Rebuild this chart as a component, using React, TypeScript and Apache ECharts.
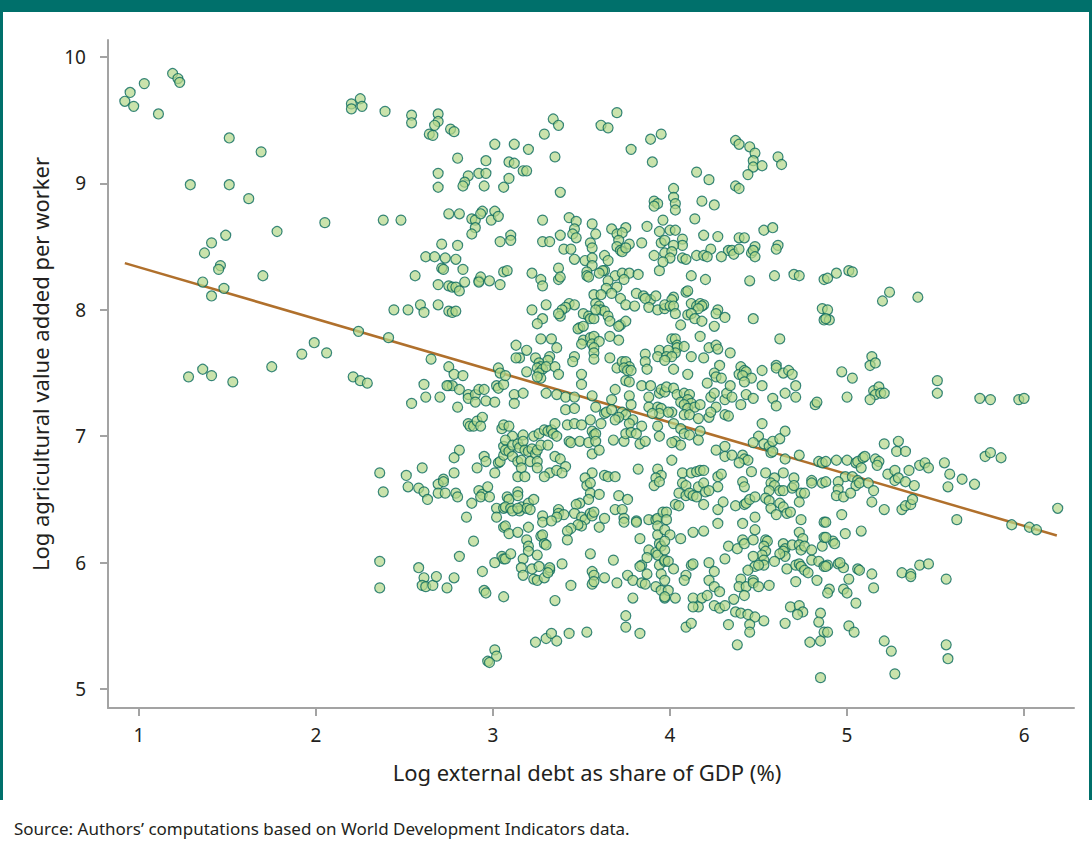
import React, { useEffect, useRef } from "react";
import * as echarts from "echarts";

const X_TICKS = [1, 2, 3, 4, 5, 6];
const Y_TICKS = [5, 6, 7, 8, 9, 10];
const TREND = [[0.92, 8.37], [6.185, 6.215]];
const X_TITLE = "Log external debt as share of GDP (%)";
const Y_TITLE = "Log agricultural value added per worker";
const SOURCE = "Source: Authors\u2019 computations based on World Development Indicators data.";

const zoneA = [[0.92,9.65],[0.95,9.72],[0.97,9.61],[1.03,9.79],[1.11,9.55],[1.19,9.87],[1.22,9.83],[1.23,9.80],[1.51,9.36],[1.69,9.25],[1.29,8.99],[1.51,8.99],[1.62,8.88],[2.05,8.69],[1.49,8.59],[1.78,8.62],[1.41,8.53],[1.37,8.45],[1.46,8.35],[1.45,8.32],[1.36,8.22],[1.48,8.17],[1.41,8.11],[1.70,8.27],[1.99,7.74],[1.92,7.65],[2.06,7.66],[1.75,7.55],[1.28,7.47],[1.36,7.53],[1.41,7.48],[1.53,7.43]];

const zoneB = [[2.20,9.63],[2.20,9.59],[2.25,9.67],[2.26,9.61],[2.39,9.57],[2.54,9.54],[2.54,9.48],[2.69,9.55],[2.69,9.49],[2.67,9.46],[2.64,9.39],[2.66,9.38],[2.76,9.43],[2.78,9.41],[3.01,9.31],[2.80,9.20],[2.96,9.18],[2.69,9.08],[2.69,8.97],[2.86,9.06],[2.84,9.01],[2.83,8.98],[2.92,9.08],[2.96,9.08],[2.95,8.98],[3.06,8.97],[2.38,8.71],[2.48,8.71],[2.75,8.76],[2.81,8.76],[2.88,8.72],[2.90,8.71],[2.94,8.78],[2.93,8.76],[3.01,8.78],[2.99,8.71],[3.03,8.74],[2.90,8.65],[2.88,8.60],[2.71,8.52],[2.80,8.51],[3.04,8.54],[2.62,8.42],[2.67,8.42],[2.73,8.41],[2.79,8.40]];

const zoneC = [[3.70,9.56],[3.34,9.51],[3.37,9.46],[3.61,9.46],[3.65,9.44],[3.29,9.39],[3.89,9.35],[3.95,9.39],[3.12,9.31],[3.20,9.27],[3.78,9.27],[3.35,9.21],[3.09,9.17],[3.12,9.16],[3.90,9.17],[3.17,9.10],[3.19,9.10],[3.09,9.04],[3.38,8.93],[3.91,8.86],[3.93,8.84],[3.91,8.82],[3.28,8.71],[3.43,8.73],[3.47,8.70],[3.56,8.68],[3.58,8.60],[3.46,8.64],[3.45,8.60],[3.47,8.57],[3.38,8.59],[3.10,8.59],[3.10,8.55],[3.28,8.54],[3.32,8.54],[3.40,8.48],[3.44,8.48],[3.46,8.40],[3.55,8.53],[3.56,8.49],[3.67,8.64],[3.75,8.65],[3.70,8.60],[3.73,8.61],[3.71,8.55],[3.70,8.50],[3.72,8.47],[3.73,8.46],[3.77,8.52],[3.75,8.49],[3.84,8.53],[3.87,8.66],[3.94,8.62],[3.96,8.71],[3.95,8.53],[3.97,8.55],[3.91,8.43],[3.63,8.43],[3.52,8.39],[3.56,8.41],[3.97,8.45]];

const zoneD = [[4.37,9.34],[4.39,9.31],[4.45,9.29],[4.48,9.24],[4.47,9.18],[4.47,9.13],[4.52,9.14],[4.61,9.21],[4.63,9.15],[4.44,9.07],[4.15,9.09],[4.22,9.03],[4.37,8.98],[4.39,8.96],[4.02,8.96],[4.02,8.89],[4.03,8.84],[4.03,8.79],[4.18,8.86],[4.25,8.83],[4.14,8.72],[4.00,8.63],[4.03,8.63],[4.19,8.59],[4.27,8.58],[4.53,8.63],[4.58,8.65],[4.39,8.57],[4.42,8.57],[4.07,8.56],[4.07,8.51],[4.02,8.51],[4.01,8.46],[4.23,8.48],[4.33,8.47],[4.35,8.47],[4.36,8.44],[4.39,8.48],[4.46,8.45],[4.48,8.50],[4.47,8.47],[4.61,8.51],[4.60,8.48],[4.15,8.43],[4.19,8.43],[4.21,8.42],[4.07,8.41],[4.09,8.40],[4.00,8.41],[4.29,8.42],[4.48,8.42]];

const zoneE = [[2.71,8.33],[2.72,8.32],[2.83,8.32],[2.56,8.27],[2.69,8.20],[2.75,8.19],[2.77,8.18],[2.79,8.18],[2.81,8.15],[2.84,8.22],[2.92,8.23],[2.93,8.26],[2.92,8.22],[2.98,8.23],[3.04,8.20],[3.06,8.30],[2.44,8.00],[2.52,8.00],[2.59,8.04],[2.61,7.98],[2.69,8.04],[2.75,7.99],[2.77,7.98],[2.79,7.99],[2.24,7.83],[2.41,7.78],[2.65,7.61],[2.75,7.55],[2.78,7.49],[2.83,7.48],[2.21,7.47],[2.25,7.44],[2.29,7.42],[2.61,7.41],[2.75,7.40],[2.77,7.40],[2.74,7.40],[2.81,7.37],[3.03,7.54],[3.04,7.50],[3.02,7.40],[3.03,7.38],[3.06,7.41],[2.54,7.26],[2.62,7.31],[2.70,7.31],[2.80,7.23],[2.86,7.33],[2.86,7.30],[2.90,7.33],[2.90,7.27],[2.92,7.37],[2.95,7.37],[2.96,7.28],[3.01,7.27],[2.86,7.10],[2.87,7.08],[2.89,7.08],[2.91,7.12],[2.94,7.15],[2.93,7.08],[3.05,7.06],[3.06,7.09],[2.81,6.89],[2.78,6.83],[2.95,6.84],[2.96,6.80],[2.91,6.75],[3.01,6.71],[3.03,6.79],[3.04,6.80],[3.06,6.85],[3.06,6.92],[2.36,6.71],[2.51,6.69],[2.60,6.75],[2.72,6.66],[2.78,6.71]];

const zoneF = [[3.08,8.31],[3.22,8.29],[3.37,8.33],[3.37,8.24],[3.38,8.26],[3.27,8.24],[3.28,8.19],[3.56,8.35],[3.65,8.39],[3.63,8.31],[3.62,8.31],[3.53,8.30],[3.53,8.27],[3.54,8.26],[3.60,8.29],[3.69,8.27],[3.73,8.29],[3.77,8.29],[3.82,8.28],[3.74,8.24],[3.65,8.23],[3.94,8.31],[3.96,8.38],
[3.64,8.17],[3.70,8.18],[3.67,8.13],[3.72,8.09],[3.75,8.04],[3.80,8.03],[3.81,8.13],[3.85,8.11],[3.89,8.08],[3.92,8.11],[3.86,8.09],[3.88,8.02],[3.93,8.00],[3.97,8.01],[3.57,8.12],[3.61,8.12],[3.58,8.05],[3.60,8.03],[3.61,8.00],[3.63,7.99],[3.65,7.95],[3.66,7.91],[3.51,7.97],[3.54,7.95],[3.55,7.93],[3.57,7.93],[3.58,8.00],[3.43,8.05],[3.46,8.04],[3.41,8.02],[3.39,8.00],[3.38,7.95],[3.37,7.97],[3.30,8.04],[3.22,8.00],[3.28,7.93],[3.25,7.89],
[3.49,7.86],[3.48,7.85],[3.51,7.87],[3.72,7.88],[3.75,7.91],[3.71,7.87],[3.66,7.79],[3.71,7.76],[3.51,7.76],[3.50,7.73],[3.55,7.78],[3.57,7.79],[3.56,7.73],[3.60,7.75],[3.57,7.70],[3.57,7.66],[3.57,7.61],[3.27,7.77],[3.33,7.77],[3.13,7.72],[3.19,7.68],[3.15,7.62],[3.13,7.62],[3.24,7.62],[3.36,7.70],[3.32,7.63],[3.31,7.60],[3.46,7.63],[3.45,7.59],[3.66,7.62],[3.86,7.65],[3.94,7.68],[3.93,7.63],
[3.26,7.58],[3.27,7.55],[3.25,7.54],[3.28,7.53],[3.26,7.50],[3.27,7.46],[3.25,7.47],[3.30,7.55],[3.35,7.55],[3.37,7.49],[3.19,7.51],[3.50,7.49],[3.50,7.41],[3.70,7.54],[3.73,7.59],[3.75,7.59],[3.77,7.55],[3.74,7.54],[3.76,7.52],[3.78,7.52],[3.86,7.59],[3.87,7.53],[3.75,7.44],[3.77,7.43],[3.07,7.48],
[3.30,7.34],[3.36,7.33],[3.41,7.31],[3.46,7.31],[3.56,7.32],[3.12,7.33],[3.12,7.26],[3.17,7.34],[3.41,7.21],[3.46,7.22],[3.58,7.23],[3.67,7.29],[3.69,7.37],[3.77,7.32],[3.78,7.25],[3.84,7.40],[3.89,7.40],[3.88,7.31],[3.94,7.34],[3.95,7.37],[3.97,7.35],[3.88,7.23],[3.93,7.23],[3.95,7.22],[3.94,7.18],[3.73,7.19],[3.75,7.17],[3.63,7.18],[3.64,7.19],[3.67,7.21],
[3.09,7.08],[3.11,7.00],[3.17,7.01],[3.23,7.00],[3.26,7.02],[3.29,7.05],[3.31,7.04],[3.33,7.05],[3.35,7.10],[3.34,7.02],[3.36,7.00],[3.42,7.09],[3.46,7.10],[3.50,7.09],[3.55,7.13],[3.61,7.10],[3.56,7.04],[3.57,7.01],[3.71,7.15],[3.69,7.13],[3.79,7.13],[3.77,7.10],[3.84,7.08],[3.90,7.18],[3.93,7.08],
[3.07,6.97],[3.07,6.89],[3.09,6.88],[3.11,6.93],[3.14,6.94],[3.15,6.91],[3.17,6.96],[3.18,6.89],[3.20,6.88],[3.22,6.90],[3.24,6.86],[3.25,6.89],[3.27,6.93],[3.31,6.93],[3.11,6.84],[3.14,6.80],[3.16,6.81],[3.21,6.80],[3.25,6.80],[3.35,6.84],[3.38,6.82],[3.41,6.76],[3.43,6.96],[3.44,6.95],[3.49,6.96],[3.54,6.95],[3.58,7.02],[3.58,6.96],[3.56,6.86],[3.60,6.89],[3.68,6.97],[3.74,6.96],[3.75,7.02],[3.78,7.03],[3.81,7.02],[3.83,6.94],[3.86,6.96],[3.94,7.00],
[3.16,6.75],[3.25,6.75],[3.32,6.71],[3.36,6.73],[3.39,6.71],[3.56,6.71],[3.63,6.69],[3.65,6.68],[3.69,6.68],[3.82,6.74],[3.93,6.74],[3.95,6.69],[3.92,6.67],[3.14,6.68],[3.18,6.68],[3.29,6.68],[3.52,6.67]];

const zoneG = [[4.12,8.27],[4.20,8.24],[4.45,8.23],[4.59,8.27],[4.70,8.28],[4.73,8.27],[4.87,8.24],[4.09,8.14],[4.10,8.15],[4.02,8.10],[4.01,8.08],[3.97,8.04],[4.00,8.03],[4.02,8.03],[4.12,8.05],[4.15,8.03],[4.17,8.05],[4.19,8.04],[4.18,8.03],[4.16,8.01],[4.10,7.96],[4.12,7.97],[4.14,7.93],[4.18,7.91],[4.03,7.97],[4.06,7.88],[4.27,8.00],[4.26,7.97],[4.31,7.94],[4.25,7.87],[4.47,7.93],[4.86,8.01],[4.87,7.92],[4.62,7.77],[4.17,7.79],
[4.01,7.77],[4.03,7.77],[4.04,7.72],[4.04,7.70],[4.08,7.71],[4.03,7.66],[3.99,7.68],[3.98,7.63],[4.01,7.63],[3.97,7.60],[4.12,7.63],[4.19,7.62],[4.22,7.70],[4.26,7.72],[4.27,7.69],[4.34,7.66],[4.02,7.53],[4.10,7.49],[4.28,7.56],[4.25,7.50],[4.26,7.47],[4.29,7.46],[4.21,7.42],[4.40,7.55],[4.39,7.49],[4.42,7.52],[4.43,7.51],[4.41,7.48],[4.46,7.46],[4.42,7.43],[4.52,7.52],[4.60,7.56],[4.60,7.54],[4.64,7.50],[4.67,7.52],[4.69,7.49],[4.71,7.40],[4.52,7.40],[4.65,7.34],[4.58,7.30],[4.60,7.24],[4.71,7.31],[4.82,7.25],[4.83,7.27],
[3.98,7.39],[4.02,7.38],[4.04,7.33],[4.06,7.27],[4.08,7.34],[4.11,7.33],[4.10,7.29],[4.12,7.26],[4.08,7.25],[4.10,7.22],[4.14,7.23],[4.17,7.25],[4.01,7.19],[3.99,7.19],[4.23,7.31],[4.25,7.34],[4.26,7.23],[4.31,7.29],[4.32,7.34],[4.34,7.40],[4.35,7.31],[4.40,7.25],[4.43,7.33],[4.47,7.30],[4.08,7.17],[4.11,7.17],[4.16,7.14],[4.22,7.15],[4.23,7.19],[4.31,7.17],[4.33,7.16],
[4.02,7.10],[4.06,7.06],[4.08,7.02],[4.11,7.01],[4.17,7.04],[4.16,6.97],[4.03,6.96],[4.06,6.93],[4.01,6.95],[4.52,7.10],[4.50,7.00],[4.47,6.95],[4.53,6.94],[4.56,6.92],[4.58,6.96],[4.62,6.98],[4.65,7.04],[4.57,6.87],[4.58,6.88],[4.26,6.89],[4.31,6.92],[4.31,6.84],[4.35,6.85],[4.41,6.85],[4.42,6.82],[4.44,6.81],[4.39,6.79],[4.65,6.82],[4.73,6.85],[4.84,6.80],[4.86,6.79],[4.01,6.81],
[4.07,6.71],[4.12,6.71],[4.15,6.72],[4.17,6.73],[4.19,6.73],[4.27,6.68],[4.29,6.70],[4.46,6.72],[4.54,6.71],[4.59,6.67],[4.64,6.71],[4.70,6.67],[4.80,6.65]];

const zoneH = [[2.38,6.56],[2.52,6.60],[2.58,6.59],[2.61,6.56],[2.63,6.50],[2.69,6.62],[2.72,6.64],[2.69,6.55],[2.73,6.55],[2.79,6.55],[2.80,6.52],[2.88,6.47],[2.85,6.36],[2.92,6.57],[2.94,6.54],[2.93,6.52],[2.97,6.60],[2.98,6.52],[3.02,6.43],[3.02,6.36],[3.06,6.43],[3.06,6.28],[2.89,6.17],[2.81,6.05],[2.36,6.01],[2.36,5.80],[2.58,5.96],[2.61,5.88],[2.60,5.82],[2.62,5.81],[2.66,5.82],[2.68,5.89],[2.74,5.80],[2.78,5.88],[2.94,5.93],[3.01,6.00],[3.05,6.05],[3.06,6.03],[2.95,5.78],[2.96,5.76],[3.06,5.73],[3.01,5.31],[3.02,5.26],[2.97,5.22],[2.98,5.21]];

const zoneI = [[3.08,6.52],[3.09,6.50],[3.07,6.44],[3.10,6.43],[3.14,6.56],[3.14,6.53],[3.16,6.44],[3.15,6.41],[3.20,6.47],[3.19,6.43],[3.21,6.42],[3.23,6.50],[3.11,6.41],[3.14,6.43],
[3.53,6.61],[3.55,6.63],[3.55,6.55],[3.54,6.50],[3.60,6.54],[3.49,6.47],[3.47,6.46],
[3.71,6.53],[3.76,6.50],[3.69,6.42],[3.73,6.42],[3.74,6.35],[3.74,6.32],[3.81,6.33],[3.81,6.32],[3.91,6.61],[3.94,6.64],
[3.37,6.42],[3.37,6.39],[3.40,6.38],[3.36,6.36],[3.28,6.37],[3.28,6.32],[3.33,6.33],
[3.46,6.39],[3.50,6.36],[3.52,6.34],[3.55,6.39],[3.56,6.37],[3.57,6.40],[3.50,6.29],[3.48,6.30],[3.44,6.27],[3.42,6.25],[3.42,6.18],[3.63,6.35],[3.60,6.28],
[3.88,6.34],[3.92,6.34],[3.93,6.35],[3.96,6.40],[3.93,6.29],[3.93,6.22],[3.97,6.26],
[3.07,6.29],[3.09,6.23],[3.14,6.24],[3.20,6.28],[3.07,6.03],[3.27,6.21],[3.28,6.22],[3.29,6.15],[3.30,6.14],
[3.19,6.18],[3.20,6.13],[3.20,6.09],[3.17,6.03],[3.25,6.06],[3.10,6.07],[3.16,5.96],[3.22,5.95],[3.26,5.97],[3.17,5.90],[3.23,5.87],[3.25,5.86],[3.29,5.88],[3.32,5.94],[3.32,5.96],[3.31,5.92],[3.39,5.99],
[3.83,6.19],[3.55,6.07],[3.68,6.02],[3.56,5.93],[3.57,5.90],[3.56,5.83],[3.57,5.85],[3.63,5.88],[3.70,5.84],
[3.76,5.90],[3.79,5.86],[3.84,5.84],[3.86,5.83],[3.87,5.91],[3.84,5.98],[3.83,5.97],
[3.88,6.10],[3.87,6.04],[3.92,6.08],[3.93,6.06],[3.94,6.15],[3.95,6.13],[3.97,6.10],[3.94,5.98],[3.95,5.91],[3.97,6.01],
[3.92,5.81],[3.95,5.78],[3.97,5.72],[3.79,5.72],[3.44,5.82],[3.35,5.70],[3.75,5.58],[3.75,5.49],[3.83,5.44],
[3.24,5.37],[3.30,5.40],[3.33,5.44],[3.36,5.38],[3.43,5.44],[3.53,5.45]];

const zoneJ = [[4.07,6.63],[4.09,6.61],[4.16,6.60],[4.19,6.63],[4.27,6.60],[4.41,6.64],[4.42,6.60],[4.05,6.55],[4.09,6.53],[4.11,6.55],[4.13,6.53],[4.15,6.52],[4.20,6.56],[4.22,6.57],[4.57,6.63],[4.59,6.61],[4.62,6.57],[4.64,6.57],[4.69,6.59],[4.70,6.61],[4.74,6.55],[4.76,6.55],[4.80,6.63],[4.86,6.63],[4.56,6.57],
[4.03,6.46],[4.05,6.45],[4.19,6.46],[4.27,6.42],[4.30,6.48],[4.37,6.45],[4.42,6.46],[4.43,6.47],[4.45,6.50],[4.48,6.52],[4.54,6.51],[4.56,6.49],[4.57,6.43],[4.60,6.38],[4.62,6.47],[4.64,6.44],[4.66,6.39],[4.68,6.40],[4.73,6.48],[4.27,6.31],[4.41,6.31],[4.48,6.36],[4.48,6.26],[4.74,6.34],[4.87,6.32],[3.98,6.40],[3.98,6.34],
[4.00,6.22],[3.97,6.17],[4.06,6.19],[4.13,6.24],[4.19,6.25],
[4.33,6.13],[4.38,6.11],[4.41,6.18],[4.42,6.15],[4.47,6.18],[4.54,6.18],[4.55,6.17],[4.53,6.13],[4.54,6.09],[4.52,6.06],[4.53,6.02],[4.53,5.98],[4.47,6.05],[4.48,5.97],[4.44,5.94],[4.50,5.98],
[4.64,6.15],[4.65,6.11],[4.64,6.09],[4.65,6.05],[4.62,6.07],[4.69,6.14],[4.59,6.01],[4.73,6.24],[4.75,6.19],[4.73,6.14],[4.74,6.10],[4.76,6.13],[4.80,6.10],[4.86,6.13],[4.87,6.20],
[4.66,5.95],[4.71,5.98],[4.73,5.99],[4.74,5.97],[4.76,5.94],[4.78,5.92],[4.80,6.02],[4.84,6.01],[4.87,5.97],[4.83,5.86],[4.71,5.85],
[3.97,6.02],[3.99,6.01],[4.02,5.95],[3.97,5.86],[3.99,5.78],[3.97,5.73],[4.03,5.72],[4.09,5.90],[4.08,5.86],[4.12,5.98],[4.13,5.99],[4.22,6.00],[4.25,5.93],[4.22,5.86],[4.25,5.81],[4.28,5.77],[4.31,6.03],
[4.40,5.87],[4.39,5.81],[4.43,5.81],[4.47,5.86],[4.47,5.84],[4.50,5.81],[4.56,5.82],[4.42,5.74],
[4.13,5.72],[4.18,5.72],[4.16,5.65],[4.13,5.65],[4.21,5.74],[4.25,5.66],[4.28,5.64],[4.31,5.66],[4.36,5.71],[4.37,5.61],[4.40,5.60],[4.44,5.59],[4.48,5.57],[4.53,5.54],[4.45,5.51],[4.45,5.45],[4.33,5.51],[4.38,5.35],[4.09,5.49],[4.12,5.52],[4.68,5.65],[4.73,5.66],[4.75,5.61],[4.72,5.59],[4.65,5.52],[4.85,5.60],[4.84,5.53],[4.87,5.45],[4.79,5.37],[4.85,5.38],[4.85,5.09]];

const zoneK = [[4.89,8.25],[4.94,8.29],[5.01,8.31],[5.03,8.30],[5.20,8.07],[5.24,8.14],[5.40,8.10],[4.89,8.00],[4.90,7.92],[4.88,7.93],[5.14,7.63],[5.13,7.56],[5.16,7.58],[4.97,7.51],[5.03,7.46],[5.51,7.44]];

const zoneL = [[5.51,7.34],[5.00,7.31],[5.15,7.36],[5.18,7.39],[5.16,7.33],[5.19,7.34],[5.21,7.34],[5.13,7.29],[5.75,7.30],[5.81,7.29],[5.97,7.29],[6.00,7.30],
[5.21,6.94],[5.29,6.96],[5.28,6.88],[5.33,6.88],
[4.88,6.80],[4.94,6.81],[5.00,6.81],[5.05,6.79],[5.06,6.80],[5.09,6.83],[5.10,6.84],[5.16,6.82],[5.18,6.80],[5.17,6.77],[5.08,6.75],
[4.99,6.68],[5.03,6.68],[5.06,6.65],[5.05,6.61],[5.07,6.63],[5.12,6.63],[4.95,6.64],[4.95,6.58],[4.94,6.53],[4.98,6.52],[5.02,6.55],[4.88,6.64],
[5.15,6.57],[5.14,6.48],[5.21,6.42],
[5.23,6.70],[5.27,6.73],[5.27,6.65],[5.29,6.67],[5.33,6.64],[5.35,6.73],[5.38,6.61],[5.31,6.42],[5.33,6.45],[5.36,6.46],[5.37,6.50],
[5.41,6.77],[5.44,6.79],[5.46,6.75],[5.55,6.79],[5.58,6.70],[5.57,6.60],[5.65,6.66],[5.72,6.62],
[5.78,6.84],[5.81,6.87],[5.87,6.83],[5.62,6.34],[5.93,6.30],[6.03,6.28],[6.07,6.26],[6.19,6.43],
[4.88,6.32],[4.97,6.38],[4.99,6.23],[5.08,6.25],[4.92,6.17],[4.93,6.15],[4.88,6.20],
[4.89,5.98],[4.88,5.97],[4.95,5.99],[4.98,5.96],[4.96,6.00],[5.06,5.95],[5.07,5.94],[5.14,5.91],[5.31,5.92],[5.36,5.91],[5.36,5.89],[5.41,5.98],[5.46,5.99],[5.56,5.87],
[5.01,5.87],[4.98,5.79],[5.00,5.76],[4.90,5.79],[4.89,5.76],[5.15,5.80],[5.05,5.68],
[4.89,5.45],[5.01,5.50],[5.04,5.45],[5.21,5.38],[5.25,5.30],[5.27,5.12],[5.56,5.35],[5.57,5.24]];

const POINTS = [
  ...zoneA, ...zoneB, ...zoneC, ...zoneD, ...zoneE, ...zoneF,
  ...zoneG, ...zoneH, ...zoneI, ...zoneJ, ...zoneK, ...zoneL,
];

const TEAL = "#00706b";
const AXIS_GRAY = "#a3a3a3";
const FONT = "'Noto Sans', 'Open Sans', sans-serif";

export default function App() {
  const ref = useRef<HTMLDivElement>(null);

  useEffect(() => {
    if (!ref.current) return;
    const chart = echarts.init(ref.current, null, { renderer: "svg" });
    chart.setOption({
      animation: false,
      backgroundColor: "#ffffff",
      grid: { left: 108, top: 40, right: 18, bottom: 140, containLabel: false },
      xAxis: {
        type: "value",
        min: 0.825,
        max: 6.282,
        axisLine: { show: true, onZero: false, lineStyle: { color: AXIS_GRAY, width: 2 } },
        axisTick: { show: true, length: 8, customValues: X_TICKS, lineStyle: { color: AXIS_GRAY, width: 2 } },
        axisLabel: {
          customValues: X_TICKS,
          margin: 17,
          color: "#231f20",
          fontSize: 19,
          fontFamily: FONT,
        },
        splitLine: { show: false },
      },
      yAxis: {
        type: "value",
        min: 4.85,
        max: 10.135,
        axisLine: { show: true, onZero: false, lineStyle: { color: AXIS_GRAY, width: 2 } },
        axisTick: { show: true, length: 8, customValues: Y_TICKS, lineStyle: { color: AXIS_GRAY, width: 2 } },
        axisLabel: {
          customValues: Y_TICKS,
          margin: 22,
          color: "#231f20",
          fontSize: 19,
          fontFamily: FONT,
        },
        splitLine: { show: false },
      },
      series: [
        {
          type: "line",
          data: TREND,
          symbol: "none",
          lineStyle: { color: "#b0702c", width: 2.5 },
          z: 2,
          silent: true,
        },
        {
          type: "scatter",
          data: POINTS,
          symbol: "circle",
          symbolSize: 10,
          itemStyle: {
            color: "rgba(180,216,138,0.88)",
            borderColor: "#0a6a5e",
            borderWidth: 1.2,
          },
          z: 3,
          silent: true,
        },
      ],
      graphic: [
        { type: "rect", shape: { x: 0, y: 0, width: 1092, height: 12 }, style: { fill: TEAL }, silent: true },
        { type: "rect", shape: { x: 0, y: 0, width: 3, height: 800 }, style: { fill: TEAL }, silent: true },
        { type: "rect", shape: { x: 1089, y: 0, width: 3, height: 800 }, style: { fill: TEAL }, silent: true },
        {
          type: "text",
          x: 587,
          y: 772,
          style: {
            text: X_TITLE,
            fill: "#231f20",
            fontSize: 22,
            fontFamily: FONT,
            align: "center",
            verticalAlign: "middle",
          },
          silent: true,
        },
        {
          type: "text",
          x: 40,
          y: 364,
          rotation: Math.PI / 2,
          style: {
            text: Y_TITLE,
            fill: "#231f20",
            fontSize: 22,
            fontFamily: FONT,
            align: "center",
            verticalAlign: "middle",
          },
          silent: true,
        },
        {
          type: "text",
          x: 14,
          y: 828,
          style: {
            text: SOURCE,
            fill: "#231f20",
            fontSize: 17,
            fontFamily: FONT,
            align: "left",
            verticalAlign: "middle",
          },
          silent: true,
        },
      ],
    });
    return () => chart.dispose();
  }, []);

  return (
    <div
      ref={ref}
      style={{ position: "fixed", left: 0, top: 0, width: 1092, height: 848, background: "#fff" }}
    />
  );
}
